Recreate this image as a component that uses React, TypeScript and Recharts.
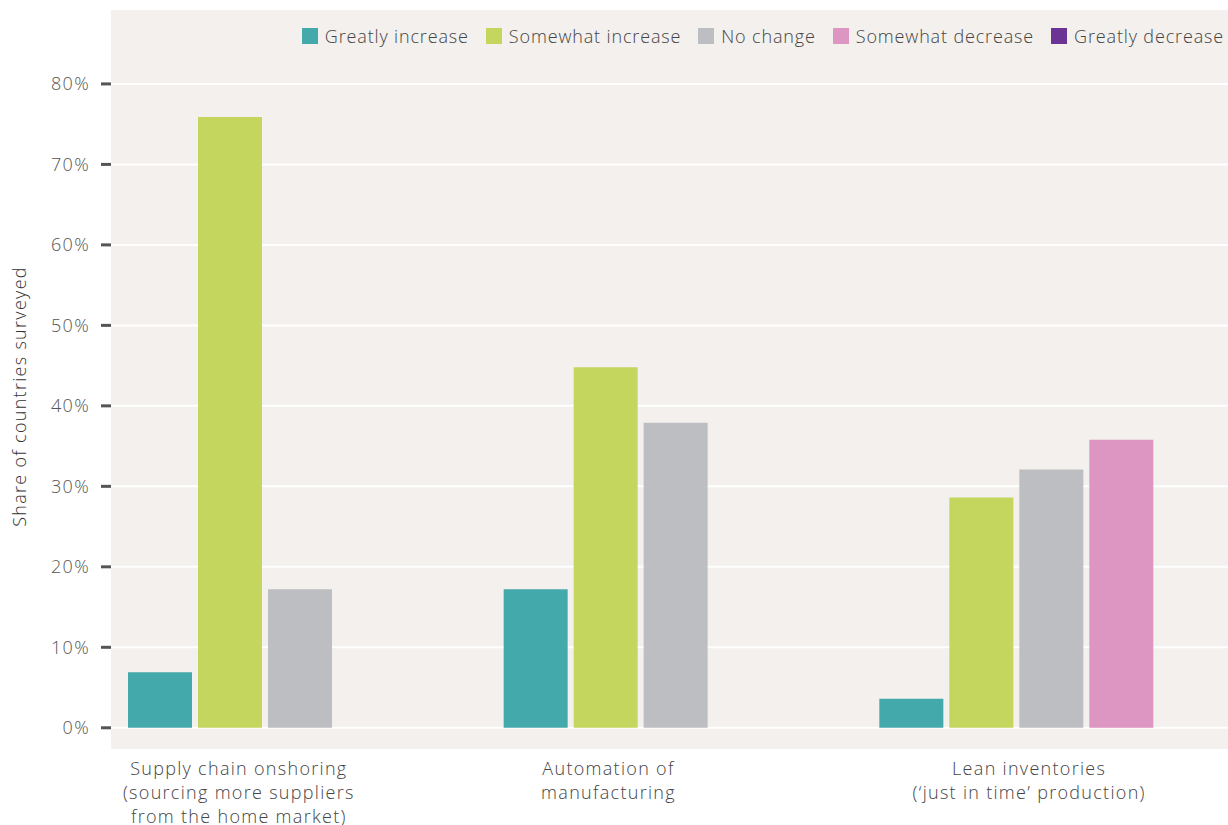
import React from 'react';
import { BarChart, Bar, XAxis, YAxis, CartesianGrid, Legend } from 'recharts';

const categories = [
  'Supply chain onshoring\n(sourcing more suppliers\nfrom the home market)',
  'Automation of\nmanufacturing',
  'Lean inventories\n(\u2018just in time\u2019 production)',
];
const greatlyIncrease = [6.9, 17.2, 3.6];
const somewhatIncrease = [75.9, 44.8, 28.6];
const noChange = [17.2, 37.9, 32.1];
const somewhatDecrease: (number | null)[] = [null, null, 35.8];
const greatlyDecrease: (number | null)[] = [null, null, null];
const yTicks = [0, 10, 20, 30, 40, 50, 60, 70, 80];

const seriesKeys = ['gi', 'si', 'nc', 'sd', 'gd'];
const seriesNames = ['Greatly increase', 'Somewhat increase', 'No change', 'Somewhat decrease', 'Greatly decrease'];
const seriesColors = ['#44A9AB', '#C4D65D', '#BDBEC2', '#DD95C1', '#6B3394'];

const data = categories.map((name, i) => ({
  name,
  gi: greatlyIncrease[i],
  si: somewhatIncrease[i],
  nc: noChange[i],
  sd: somewhatDecrease[i],
  gd: greatlyDecrease[i],
}));

const FONT = '"Open Sans", sans-serif';
const LS = 1.3;
const LABEL_DX = [-60, -66, -21];

const CategoryTick = (props: any) => {
  const { x, y, payload, index } = props;
  const idx = typeof index === 'number' ? index : payload.index;
  const lines = String(payload.value).split('\n');
  const cx = x + (LABEL_DX[idx] ?? 0);
  return (
    <text
      x={cx}
      y={y}
      textAnchor="middle"
      fill="#444"
      fontSize={18}
      fontFamily={FONT}
      fontWeight={300}
      letterSpacing={LS}
    >
      {lines.map((l, i) => (
        <tspan key={i} x={cx} dy={i === 0 ? 25 : 24}>
          {l}
        </tspan>
      ))}
    </text>
  );
};

const LegendContent = () => (
  <div style={{ display: 'flex', alignItems: 'center', fontFamily: FONT, fontWeight: 300, fontSize: 18, letterSpacing: 0.85, color: '#444', whiteSpace: 'nowrap' }}>
    {seriesNames.map((n, i) => (
      <div key={n} style={{ display: 'flex', alignItems: 'center', marginLeft: i === 0 ? 0 : 17 }}>
        <span style={{ display: 'inline-block', width: 16, height: 16, background: seriesColors[i], marginRight: 7 }} />
        <span>{n}</span>
      </div>
    ))}
  </div>
);

const YLabel = (props: any) => {
  const vb = props.viewBox || {};
  const cx = 19;
  const cy = (vb.y ?? 0) + (vb.height ?? 0) / 2 + 17;
  return (
    <text
      x={cx}
      y={cy}
      transform={`rotate(-90 ${cx} ${cy})`}
      textAnchor="middle"
      dominantBaseline="central"
      fill="#333"
      fontSize={18}
      fontFamily={FONT}
      fontWeight={300}
      letterSpacing={LS}
    >
      Share of countries surveyed
    </text>
  );
};

export default function App() {
  return (
    <div style={{ position: 'fixed', left: 0, top: 0, width: 1228, height: 825, overflow: 'hidden', background: '#fff' }}>
      <BarChart
        width={1240}
        height={825}
        data={data}
        margin={{ top: 9, right: 2, left: 0, bottom: 45 }}
        barCategoryGap={17}
        barGap={6}
      >
        <CartesianGrid vertical={false} stroke="#FFFFFF" strokeWidth={2} fill="#F3F0ED" fillOpacity={1} />
        <XAxis
          dataKey="name"
          axisLine={false}
          tickLine={false}
          tickSize={0}
          tickMargin={0}
          height={30}
          interval={0}
          tick={<CategoryTick />}
        />
        <YAxis
          width={111}
          type="number"
          domain={[-2.76, 89.31]}
          allowDataOverflow
          ticks={yTicks}
          axisLine={false}
          tickLine={{ stroke: '#555', strokeWidth: 3 }}
          tickSize={10}
          tickMargin={11}
          tickFormatter={(v: number) => `${v}%`}
          tick={{ fill: '#555', fontSize: 18, fontFamily: FONT, fontWeight: 300, letterSpacing: LS }}
          label={<YLabel />}
        />
        <Legend
          verticalAlign="middle"
          align="center"
          layout="horizontal"
          content={<LegendContent />}
          wrapperStyle={{ top: 24, left: 'auto', right: 16, width: 'auto', height: 'auto' }}
        />
        {seriesKeys.map((k, i) => (
          <Bar key={k} dataKey={k} name={seriesNames[i]} fill={seriesColors[i]} isAnimationActive={false} />
        ))}
      </BarChart>
    </div>
  );
}
